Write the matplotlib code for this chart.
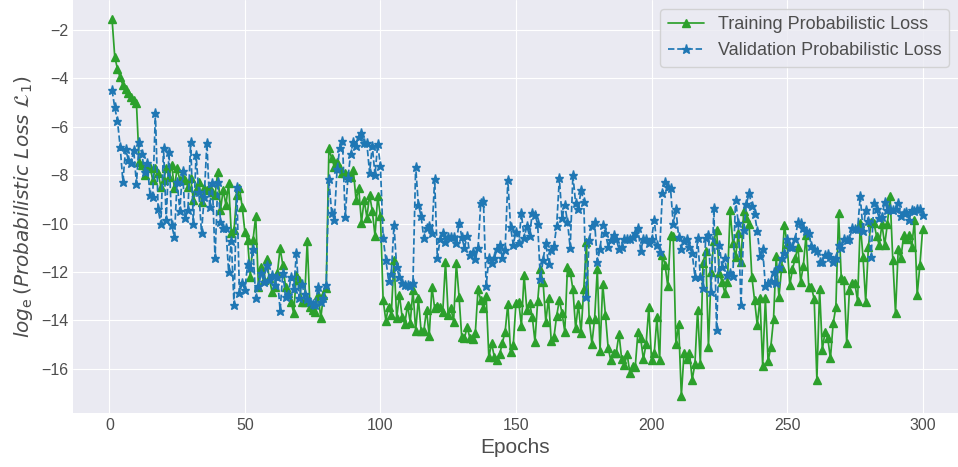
import numpy as np
import matplotlib
matplotlib.use("Agg")
import matplotlib.pyplot as plt

# log-loss per epoch (epochs 1..300)
train_loss = [
    -1.55, -3.1, -3.61, -3.96, -4.27, -4.45, -4.62, -4.75, -4.89, -5.03,
    -7.44, -7.58, -7.99, -7.72, -7.65, -8.2, -7.72, -7.92, -8.47, -8.2,
    -7.72, -8.06, -7.58, -8.54, -7.72, -8.2, -8.13, -8.2, -8.47, -8.13,
    -9.02, -8.61, -8.27, -9.09, -8.54, -8.61, -8.54, -8.68, -8.82,
    -7.85, -9.44, -8.61, -9.23, -8.34, -10.4, -10.26, -8.82, -8.54, -9.3,
    -10.33, -10.68, -12.19,
    -10.68, -9.69, -12.61, -11.78, -12.33, -11.48, -12.26, -12.81, -12.61, -12.03,
    -11.02, -11.71, -12.61, -12.88, -13.23, -13.71, -12.12, -12.33, -13.23, -13.23,
    -10.71, -13.43, -13.57, -13.64, -12.95, -13.91, -12.95, -12.67, -6.89, -7.3,
    -7.65, -7.44, -7.72, -7.92, -7.92, -7.99, -8.06, -7.79, -9.02, -8.54,
    -9.96, -9.02, -9.75, -8.82, -9.47, -10.51, -8.86, -9.69,
    -13.16, -14.01, -13.43, -13.78, -11.5, -13.91, -12.95, -13.85, -14.15, -13.36,
    -14.09, -12.74, -14.44, -13.09, -14.44, -14.44, -13.57, -14.64, -12.61, -13.5,
    -13.4, -13.43, -13.64, -11.57, -13.78, -13.5, -14.05, -11.64, -13.02, -14.7,
    -14.74, -14.26, -14.74, -14.78, -14.53, -12.72, -13.16, -13.5, -12.99, -15.53,
    -14.95,
    -15.5, -15.66, -15.4, -14.92, -14.47, -13.32, -15.29, -15.02, -13.29, -13.23,
    -14.23, -12.12,
    -13.57, -13.27, -13.85, -14.88, -13.22, -11.88, -12.43, -14.05, -13.09, -14.84,
    -14.7, -13.82, -13.16, -13.71, -14.47, -11.81, -11.99, -12.72, -14.33, -13.32,
    -14.51, -12.72, -10.75, -13.95, -14.97, -13.95, -11.88, -15.25, -12.5, -13.78,
    -15.14, -15.66, -15.33, -15.33, -14.56, -15.61, -15.84, -15.39, -16.16, -15.88,
    -15.91, -14.47, -14.74, -15.61, -14.97, -13.46, -15.64, -15.36, -13.88, -15.66,
    -11.3, -11.71, -12.6, -10.47, -10.5, -14.98, -14.15, -17.12, -15.33, -15.6,
    -15.33, -16.46, -15.8, -13.57, -15.8, -11.64, -11.12, -15.09, -11.99, -10.71,
    -10.26, -12.05, -12.4, -12.85, -12.4, -9.44, -10.79, -11.4, -10.4, -11.57,
    -9.47, -9.78, -10.02, -12.19, -13.16, -14.19,
    -13.09, -15.88, -13.09, -15.7, -15.09, -13.96, -11.34, -13.02, -11.85, -10.06,
    -10.84, -12.54, -11.89, -11.44, -10.95, -12.4, -11.75, -10.47, -12.61, -12.63,
    -13.13, -16.46, -12.71, -15.22, -14.47, -14.74, -15.57, -14.12, -13.46, -9.58,
    -12.26, -12.33, -14.95, -12.74, -12.44, -12.47, -13.19,
    -9.99, -11.37, -13.23, -10.95, -9.92, -9.96, -10.51, -10.88, -10.02, -10.88,
    -10.02, -8.86, -11.5, -13.71, -11.06, -11.44, -10.47, -10.65, -10.47, -10.95,
    -9.85, -12.95, -11.71, -10.24,
]

val_loss = [
    -4.48, -5.2, -5.76, -6.82, -8.27, -6.92, -7.37, -7.51, -6.96, -8.36,
    -6.61, -7.12, -7.85, -7.51, -8.82, -8.89, -5.44, -9.41, -10.02, -6.89,
    -9.85, -7.03, -10.06, -10.57, -8.27, -9.47, -7.81, -9.78, -9.44, -6.64,
    -10.02, -7.17, -8.68, -10.37, -8.89, -6.66, -9.3, -8.34, -11.44, -8.27,
    -9.92, -10.2, -10.2, -11.99, -10.71, -13.36, -8.5, -12.88, -12.47, -12.74,
    -11.67, -11.85, -11.06, -13.09, -12.58, -12.06, -12.4, -11.71, -12.33, -12.12,
    -12.54, -12.19, -13.6, -12.03, -13.05, -12.95, -12.19, -12.72, -11.23, -13.09,
    -12.5, -12.91, -13.13, -13.23, -13.32, -13.36, -12.61, -13.23, -13.09, -12.54,
    -8.17, -9.55, -9.85, -7.76, -6.89, -6.57, -9.74, -8.13, -7.12, -6.61,
    -6.79, -6.41, -6.27, -6.68, -6.68, -7.9, -6.79, -7.99, -6.71, -7.62,
    -10.61, -11.5, -12.36, -12.08, -10.06, -11.81, -12.22, -12.47, -12.54, -12.54,
    -12.58, -12.44, -7.65, -9.23, -9.69, -10.61, -10.2, -10.1, -10.4, -8.17,
    -11.44, -10.65, -10.4, -10.75, -10.57, -10.57, -10.57, -10.82, -9.96, -10.54,
    -11.02, -10.51, -11.3, -11.16, -11.48, -11.02, -9.16, -9.05, -12.58, -11.44,
    -11.64, -11.44, -11.06, -10.88, -11.44, -11.09, -8.2, -10.13, -10.88, -10.33,
    -10.82,
    -9.58, -10.61, -10.1, -10.51, -9.58, -9.64, -10.02, -12.3, -11.5, -10.79,
    -11.67, -11.09, -10.93, -10.1, -8.13, -9.78, -9.23, -9.92, -11.02, -7.99,
    -9.16, -9.41, -8.61, -9.09, -13.05, -10.68, -10.1, -9.92, -11.57, -11.06,
    -10.06, -10.4, -10.95, -10.68, -10.47, -10.65, -11.06, -10.95, -10.65, -10.65,
    -10.65, -10.57, -10.4, -10.2, -11.12, -10.65, -10.65, -10.82, -10.65, -9.85,
    -10.88, -11.16,
    -8.72, -8.27, -8.5, -8.54, -10.02, -9.41, -10.54, -11.06, -10.71, -10.65,
    -10.98, -11.23, -12.19, -10.61, -12.19, -12.67, -10.61, -10.47, -12.81, -9.37,
    -14.4, -10.88, -11.78, -11.44, -12.12, -12.05, -12.17, -9.02, -9.96, -13.36,
    -10.26, -9.19, -8.75, -9.27, -9.6, -10.29,
    -11.34, -11.06, -12.58, -12.44, -12.36, -11.99, -12.47, -11.78, -11.44, -11.23,
    -10.65, -10.98, -10.98, -10.65, -9.92, -9.96, -10.2, -10.29, -10.4, -10.93,
    -11.06, -11.12, -11.57, -11.57, -11.3, -11.26, -11.39, -11.57, -11.44, -10.88,
    -11.02, -10.65, -10.68, -10.65, -10.2, -10.24, -10.24,
    -8.86, -10.3, -9.44, -9.9, -11.39, -9.16, -9.41, -9.78, -9.71, -9.09,
    -9.44, -9.41, -9.44, -9.41, -9.16, -9.69, -9.55, -9.51, -9.85, -9.44,
    -9.47, -9.41, -9.41, -9.64,
]

x_ticks = [0, 50, 100, 150, 200, 250, 300]
y_ticks = [-16, -14, -12, -10, -8, -6, -4, -2]

plt.style.use("seaborn-v0_8-darkgrid")
plt.rcParams["font.family"] = ["Liberation Sans", "DejaVu Sans"]
plt.rcParams["mathtext.fontset"] = "dejavusans"

W, H = 958, 467
fig = plt.figure(figsize=(W / 100, H / 100), dpi=100)
ax = fig.add_axes([73 / W, 54 / H, 885 / W, 413 / H])

epochs_train = np.arange(1, len(train_loss) + 1)
epochs_val = np.arange(1, len(val_loss) + 1)

ax.plot(epochs_train, train_loss, color="#2ca02c", marker="^", markersize=5.5,
        linewidth=1.25, label="Training Probabilistic Loss")
ax.plot(epochs_val, val_loss, color="#1f77b4", marker="*", markersize=6.5,
        linewidth=1.25, linestyle="--", label="Validation Probabilistic Loss")

ax.set_xlim(-13.4, 313.05)
ax.set_ylim(-17.83, -0.76)
ax.set_xticks(x_ticks)
ax.set_yticks(y_ticks)
ax.tick_params(axis="both", labelsize=11.5, colors="0.3")

ax.set_xlabel("Epochs", fontsize=15, color="0.3", labelpad=4)
ax.set_ylabel(r"$log_{\mathrm{e}}\,(Probabilistic\ Loss\ \mathcal{L}_1)$",
              fontsize=14.5, color="0.3", labelpad=4)

leg = ax.legend(loc="upper right", fontsize=13, frameon=True, fancybox=True)
leg.get_frame().set_edgecolor("0.8")
leg.get_frame().set_facecolor("#EAEAF2")
for t in leg.get_texts():
    t.set_color("0.3")

fig.savefig("out.png", dpi=100)
